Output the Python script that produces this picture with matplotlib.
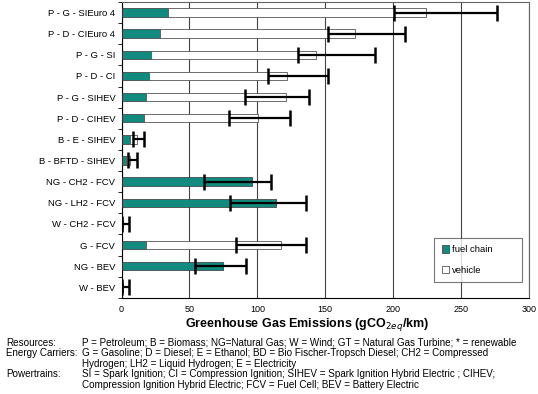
import matplotlib
matplotlib.use("Agg")
import matplotlib.pyplot as plt
import numpy as np

plt.rcParams['font.family'] = ['Liberation Sans', 'DejaVu Sans']

# pathways, top to bottom
pathways = ["P - G - SIEuro 4", "P - D - CIEuro 4", "P - G - SI", "P - D - CI",
            "P - G - SIHEV", "P - D - CIHEV", "B - E - SIHEV", "B - BFTD - SIHEV",
            "NG - CH2 - FCV", "NG - LH2 - FCV", "W - CH2 - FCV", "G - FCV",
            "NG - BEV", "W - BEV"]

# gCO2eq/km
fuel_chain = [34, 28, 21.5, 20.3, 18, 16.3, 6.3, 3.3, 96, 113.6, 1, 17.8, 74.6, 1]
vehicle = [190, 144, 121.5, 101.2, 103, 84.1, 4.9, 3, 0, 0, 0, 99.5, 0, 0]

# uncertainty range (low, high) for the total
err_low = [201, 152, 129.6, 108, 91, 79, 8.7, 5, 61, 80, 0.4, 84, 54, 0.4]
err_high = [276.5, 208.7, 186.3, 152, 137.7, 124, 16.8, 11.2, 110, 135.5, 5.7, 135.5, 91.7, 5.7]

teal = "#138a80"

fig = plt.figure(figsize=(5.38, 3.94), dpi=100)
ax = fig.add_axes([0.226, 0.244, 0.757, 0.751])

y = np.arange(len(pathways))
fuel = np.array(fuel_chain)
veh = np.array(vehicle)

ax.barh(y, fuel, height=0.4, color=teal, edgecolor="#333333", linewidth=0.5,
        label="fuel chain", zorder=3)
ax.barh(y, veh, left=fuel, height=0.4, color="white", edgecolor="#555555",
        linewidth=0.6, label="vehicle", zorder=3)

lo = np.array(err_low)
hi = np.array(err_high)
mid = (lo + hi) / 2
ax.errorbar(mid, y, xerr=[mid - lo, hi - mid], fmt="none", ecolor="black",
            elinewidth=1.6, capsize=5.5, capthick=1.8, zorder=4)

ax.set_xlim(0, 300)
ax.set_ylim(13.5, -0.5)
ax.set_xticks(np.arange(0, 301, 50))
ax.tick_params(axis="x", length=0, labelsize=6.5, pad=5)
ax.set_yticks(y)
ax.set_yticklabels(pathways, fontsize=6.8)
ax.set_yticks(np.arange(-0.5, 13.6, 1), minor=True)
ax.tick_params(axis="y", which="major", length=0, pad=4.5)
ax.tick_params(axis="y", which="minor", length=3, direction="out")
ax.xaxis.grid(True, color="#444444", linewidth=0.8, zorder=0)
for s in ["top", "right"]:
    ax.spines[s].set_color("#666666")
    ax.spines[s].set_linewidth(0.8)

ax.set_xlabel("Greenhouse Gas Emissions (gCO$_{2eq}$/km)", fontsize=9,
              fontweight="bold", labelpad=2)
ax.xaxis.set_label_coords(0.455, -0.062)

leg = ax.legend(loc="lower left", bbox_to_anchor=(0.768, 0.053, 0.216, 0.14),
                mode="expand", fontsize=6.8, frameon=True, fancybox=False,
                edgecolor="#555555", handlelength=0.8, handleheight=0.8,
                handletextpad=0.3, labelspacing=1.2, borderpad=0.8,
                borderaxespad=0)
leg.get_frame().set_linewidth(0.8)

# footnote
fs = 7.1
x0 = 0.011
x1 = 0.153
fig.text(x0, 0.130, "Resources:", fontsize=fs, va="center")
fig.text(x1, 0.130, "P = Petroleum; B = Biomass; NG=Natural Gas; W = Wind; "
         "GT = Natural Gas Turbine; * = renewable", fontsize=fs, va="center")
fig.text(x0, 0.104, "Energy Carriers:", fontsize=fs, va="center")
fig.text(x1, 0.104, "G = Gasoline; D = Diesel; E = Ethanol; BD = Bio Fischer-Tropsch "
         "Diesel; CH2 = Compressed", fontsize=fs, va="center")
fig.text(x1, 0.077, "Hydrogen; LH2 = Liquid Hydrogen; E = Electricity",
         fontsize=fs, va="center")
fig.text(x0, 0.050, "Powertrains:", fontsize=fs, va="center")
fig.text(x1, 0.050, "SI = Spark Ignition; CI = Compression Ignition; SIHEV = Spark "
         "Ignition Hybrid Electric ; CIHEV;", fontsize=fs, va="center")
fig.text(x1, 0.023, "Compression Ignition Hybrid Electric; FCV = Fuel Cell; "
         "BEV = Battery Electric", fontsize=fs, va="center")

fig.savefig("out.png", dpi=100)
